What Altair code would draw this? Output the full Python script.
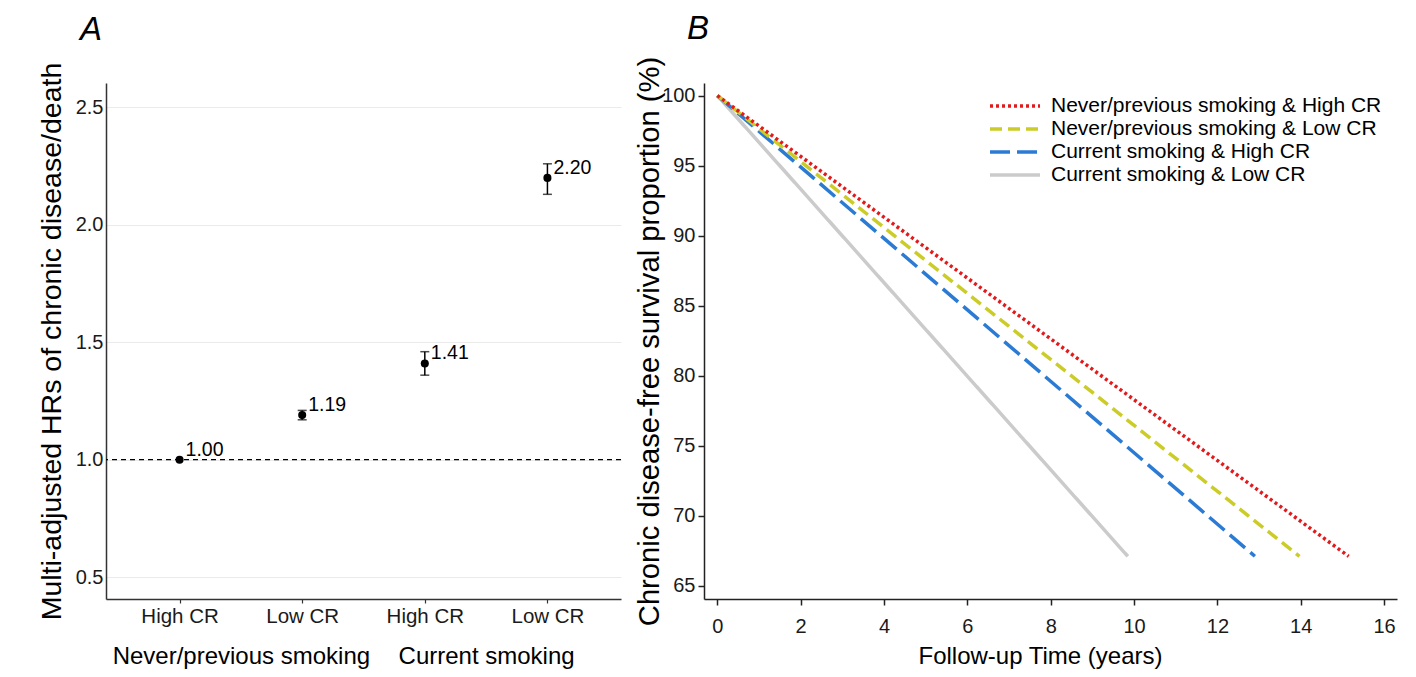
import altair as alt
import pandas as pd

FONT = "Liberation Sans"

# ---------------- Panel A data ----------------
group_names = ["Never/previous smoking", "Current smoking"]
cat_group = ["Never/previous smoking", "Never/previous smoking", "Current smoking", "Current smoking"]
cat_cr = ["High CR", "Low CR", "High CR", "Low CR"]
hr = [1.00, 1.19, 1.41, 2.20]
hr_lo = [1.00, 1.17, 1.36, 2.13]
hr_hi = [1.00, 1.21, 1.46, 2.26]
hr_text = ["1.00", "1.19", "1.41", "2.20"]
ref_line = [1.0]
hr_ticks = [0.5, 1.0, 1.5, 2.0, 2.5]

# ---------------- Panel B data ----------------
series = [
    "Never/previous smoking & High CR",
    "Never/previous smoking & Low CR",
    "Current smoking & High CR",
    "Current smoking & Low CR",
]
t_start = [0, 0, 0, 0]
t_end = [15.15, 13.97, 12.9, 9.85]
surv_start = [100, 100, 100, 100]
surv_end = [67.1, 67.1, 67.1, 67.1]
colors = ["#e31a1c", "#cccc29", "#2b7bd4", "#cbcbcb"]
dashes = [[3, 3], [12, 6], [20, 7], [1, 0]]
x_ticks = [0, 2, 4, 6, 8, 10, 12, 14, 16]
y_ticks = [65, 70, 75, 80, 85, 90, 95, 100]

# ---------------- Panel A ----------------
keys = [g + "|" + c for g, c in zip(cat_group, cat_cr)]
dfA = pd.DataFrame({"key": keys, "hr": hr, "lo": hr_lo, "hi": hr_hi, "txt": hr_text})
dfRef = pd.DataFrame({"hr": ref_line})
dfGrp = pd.DataFrame({"grp": group_names})

yscaleA = alt.Scale(domain=[0.407, 2.604], nice=False, zero=False)
xscaleA = alt.Scale(type="point", padding=0.6)

axisXA = alt.Axis(
    title=None, labelExpr="split(datum.label, '|')[1]", labelFontSize=20.5, labelAngle=0,
    labelColor="#1a1a1a", tickSize=4, tickColor="#333333", tickWidth=1.2,
    domainColor="#333333", domainWidth=1.5, labelPadding=3,
    grid=True, gridColor="white", gridWidth=2,
)
axisYA = alt.Axis(
    values=hr_ticks, format=".1f",
    title="Multi-adjusted HRs of chronic disease/death",
    titleFontSize=28.5, titleFontWeight="normal", titleColor="black", titlePadding=9,
    ticks=False, labelFontSize=20, labelColor="#1a1a1a", labelPadding=3,
    domainColor="#333333", domainWidth=1.5,
    grid=True, gridColor="#ebebeb", gridWidth=1.2,
)
xA = alt.X("key:N", sort=keys, scale=xscaleA, axis=axisXA)

refA = alt.Chart(dfRef).mark_rule(color="black", strokeDash=[5, 4], strokeWidth=1.2).encode(
    y=alt.Y("hr:Q", scale=yscaleA, axis=axisYA)
)
base = alt.Chart(dfA)
withci = base.transform_filter("datum.hi > datum.lo")
err = withci.mark_rule(color="black", strokeWidth=1.5).encode(
    x=xA, y=alt.Y("lo:Q", scale=yscaleA, axis=axisYA), y2="hi:Q"
)
capLo = withci.mark_tick(color="black", size=9, thickness=1.5).encode(
    x=xA, y=alt.Y("lo:Q", scale=yscaleA, axis=axisYA)
)
capHi = withci.mark_tick(color="black", size=9, thickness=1.5).encode(
    x=xA, y=alt.Y("hi:Q", scale=yscaleA, axis=axisYA)
)
pts = base.mark_circle(color="black", size=65, opacity=1).encode(
    x=xA, y=alt.Y("hr:Q", scale=yscaleA, axis=axisYA)
)
lbl = base.mark_text(align="left", baseline="middle", dx=6, dy=-10, fontSize=19.5, color="black", font=FONT).encode(
    x=xA, y=alt.Y("hr:Q", scale=yscaleA, axis=axisYA), text="txt:N"
)
inner = alt.layer(refA, err, capLo, capHi, pts, lbl)

grp = alt.Chart(dfGrp).mark_point(opacity=0).encode(
    x=alt.X(
        "grp:N", sort=group_names, scale=alt.Scale(type="point", padding=0.55),
        axis=alt.Axis(orient="bottom", title=None, domain=False, ticks=False, grid=False,
                      labelAngle=0, labelPadding=45, labelFontSize=24, labelColor="black",
                      labelLimit=500),
    ),
    y=alt.value(0),
)

panelA = alt.layer(inner, grp).resolve_scale(x="independent").properties(
    width=515, height=516,
    title=alt.TitleParams("A", anchor="start", frame="group", fontStyle="italic", fontSize=33,
                          fontWeight="normal", font=FONT, color="black", dx=-26, offset=-11,
                          baseline="alphabetic"),
)

# ---------------- Panel B ----------------
rows = []
for s, t0, t1, s0, s1 in reversed(list(zip(series, t_start, t_end, surv_start, surv_end))):
    rows.append({"series": s, "t": t0, "surv": s0})
    rows.append({"series": s, "t": t1, "surv": s1})
dfB = pd.DataFrame(rows)

legendB = alt.Legend(
    title=None, orient="none", legendX=897, legendY=11,
    symbolType="M-2.5,0H2.5", symbolSize=400, symbolStrokeWidth=3.5,
    labelFontSize=21, labelOffset=24, rowPadding=1, labelLimit=600,
    labelColor="black", padding=0,
)

lines = alt.Chart(dfB).mark_line(strokeWidth=3.5, strokeCap="butt").encode(
    x=alt.X("t:Q", scale=alt.Scale(domain=[-0.32, 16.31], nice=False, zero=False),
            axis=alt.Axis(values=x_ticks, title="Follow-up Time (years)", titleFontSize=24,
                          titleFontWeight="normal", titleColor="black", titlePadding=8,
                          titleX=336, titleAlign="center",
                          labelFontSize=20, labelColor="#1a1a1a", tickSize=6, tickWidth=1.5,
                          tickColor="#222222", domainColor="#222222", domainWidth=1.5,
                          labelPadding=11, grid=False)),
    y=alt.Y("surv:Q", scale=alt.Scale(domain=[64.05, 100.9], nice=False, zero=False),
            axis=alt.Axis(values=y_ticks, title="Chronic disease-free survival proportion (%)",
                          titleFontSize=29.2, titleFontWeight="normal", titleColor="black", titlePadding=-3,
                          labelFontSize=20, labelColor="#1a1a1a", tickSize=6, tickWidth=1.5,
                          tickColor="#222222", domainColor="#222222", domainWidth=1.5,
                          labelPadding=3, grid=False)),
    color=alt.Color("series:N", sort=series, scale=alt.Scale(domain=series, range=colors),
                    legend=legendB),
    strokeDash=alt.StrokeDash("series:N", sort=series, scale=alt.Scale(domain=series, range=dashes),
                              legend=legendB),
    detail="series:N",
)

panelB = lines.properties(
    width=693, height=516,
    title=alt.TitleParams("B", anchor="start", frame="group", fontStyle="italic", fontSize=33,
                          fontWeight="normal", font=FONT, color="black", dx=-17, offset=-16,
                          baseline="alphabetic"),
)

chart = alt.hconcat(panelA, panelB, spacing=13).properties(
    padding={"left": 29, "top": 5, "right": 5, "bottom": 5},
    background="white",
).configure(font=FONT).configure_view(stroke=None)

chart.save("out.html", embed_options={"renderer": "svg", "actions": False})
